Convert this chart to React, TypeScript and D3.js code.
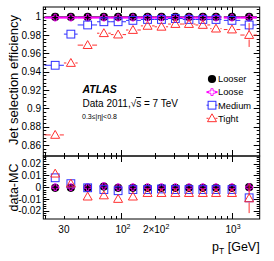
import React from "react";
import * as d3 from "d3";

// ---- data ----
const binLo = [20, 30, 40, 60, 80, 110, 150, 200, 265, 360, 470, 640, 850, 1200];
const binHi = [30, 40, 60, 80, 110, 150, 200, 265, 360, 470, 640, 810, 1200, 1700];
const ptCenter = [25, 34.7, 49.3, 69.2, 93.2, 127, 172.5, 230.7, 308.6, 410, 548, 722, 1008, 1443];

const effLooser = [0.9998, 0.9998, 0.9998, 0.9998, 0.9998, 0.9998, 0.9998, 0.9998, 0.9998, 0.9998, 0.9998, 0.9998, 0.9998, 0.9998];
const effLoose = [0.999, 0.999, 0.999, 0.999, 0.999, 0.999, 0.999, 0.999, 0.999, 0.999, 0.999, 0.999, 0.999, 0.999];
const effMedium = [0.947, 0.981, 0.991, 0.9945, 0.9945, 0.996, 0.997, 0.997, 0.998, 0.997, 0.997, 0.997, 0.996, 0.991];
const effTight = [0.871, 0.9495, 0.969, 0.982, 0.9805, 0.9855, 0.99, 0.989, 0.992, 0.992, 0.991, 0.987, 0.986, 0.98];
const errMedium = [0, 0, 0, 0, 0, 0, 0, 0, 0, 0, 0, 0, 0, 0.006];
const errTight = [0, 0, 0, 0, 0, 0, 0, 0, 0, 0, 0, 0, 0, 0.013];

const diffLooser = [-0.0005, -0.0005, -0.0005, 0.0005, -0.0005, -0.0005, -0.0005, -0.0005, -0.0005, -0.0005, -0.0005, -0.0005, -0.0005, 0];
const diffLoose = [0, 0, 0, 0.001, 0, 0, 0, 0, 0, 0, 0, 0, 0, 0];
const diffMedium = [0.008, 0.003, -0.0005, -0.002, -0.003, -0.002, -0.002, -0.0015, -0.002, -0.002, -0.002, -0.002, -0.002, -0.009];
const diffTight = [0.0115, 0.003, -0.008, -0.007, -0.01, -0.008, -0.005, -0.005, -0.005, -0.005, -0.005, -0.005, -0.005, -0.0095];
const diffErrMedium = [0, 0, 0, 0, 0, 0, 0, 0, 0, 0, 0, 0, 0, 0.004];
const diffErrTight = [0, 0, 0, 0, 0, 0, 0, 0, 0, 0, 0, 0, 0, 0.0125];

const topMajor = [0.86, 0.88, 0.9, 0.92, 0.94, 0.96, 0.98, 1];
const botMajor = [-0.02, -0.01, 0, 0.01, 0.02];
const xMajor = [100, 1000];
const xMinor = [20, 30, 40, 50, 60, 70, 80, 90, 200, 300, 400, 500, 600, 700, 800, 900];

const legendNames = ["Looser", "Loose", "Medium", "Tight"];

// ---- layout ----
const W = 274, H = 261;
const X0 = 43.3, X1 = 259.7;
const T0 = 7, T1 = 156, B0 = 156, B1 = 219;
const FONT = "Liberation Sans, Arial, sans-serif";
const COL = { looser: "#000000", loose: "#ff00ff", medium: "#2f2fff", tight: "#ff3030" };

const x = d3.scaleLog().domain([19.5, 1800]).range([X0, X1]);
const yTop = d3.scaleLinear().domain([0.848, 1.0106]).range([T1, T0]);
const yBot = d3.scaleLinear().domain([-0.027, 0.0265]).range([B1, B0]);

function Marker({ kind, cx, cy, color }: any) {
  if (kind === "circle") return <circle cx={cx} cy={cy} r={4.1} fill={color} />;
  if (kind === "square")
    return <rect x={cx - 3.9} y={cy - 3.9} width={7.8} height={7.8} fill="none" stroke={color} strokeWidth={1} />;
  if (kind === "triangle") {
    const s = 4.5;
    return (
      <path
        d={`M${cx},${cy - s} L${cx + s},${cy + s * 0.75} L${cx - s},${cy + s * 0.75} Z`}
        fill="none"
        stroke={color}
        strokeWidth={1}
      />
    );
  }
  // open cross
  const a = 3.4, b = 1.1;
  return (
    <path
      d={`M${cx - b},${cy - a} H${cx + b} V${cy - b} H${cx + a} V${cy + b} H${cx + b} V${cy + a} H${cx - b} V${cy + b} H${cx - a} V${cy - b} H${cx - b} Z`}
      fill="none"
      stroke={color}
      strokeWidth={0.9}
    />
  );
}

function Series({ vals, errs, y, kind, color, lw, gap }: any) {
  return (
    <g>
      {vals.map((v: number, i: number) => {
        const cx = x(ptCenter[i]);
        const cy = y(v);
        const xl = Math.max(X0, x(binLo[i]));
        const xr = Math.min(X1, x(binHi[i]));
        const e = errs ? errs[i] : 0;
        return (
          <g key={i}>
            {lw > 0 && (
              <>
                <line x1={xl} x2={cx - gap} y1={cy} y2={cy} stroke={color} strokeWidth={lw} />
                <line x1={cx + gap} x2={xr} y1={cy} y2={cy} stroke={color} strokeWidth={lw} />
              </>
            )}
            {e > 0 && (
              <>
                <line x1={cx} x2={cx} y1={y(v + e)} y2={cy - gap} stroke={color} strokeWidth={1} />
                <line x1={cx} x2={cx} y1={cy + gap} y2={y(v - e)} stroke={color} strokeWidth={1} />
              </>
            )}
            <Marker kind={kind} cx={cx} cy={cy} color={color} />
          </g>
        );
      })}
    </g>
  );
}

function YTicks({ scale, major, minorStep, y0, y1 }: any) {
  const [d0, d1] = scale.domain();
  const minors: number[] = [];
  const start = Math.ceil(d0 / minorStep - 1e-9);
  for (let k = start; k * minorStep <= d1 + 1e-12; k++) minors.push(k * minorStep);
  return (
    <g stroke="#000" strokeWidth={1}>
      {minors.map((v, i) => {
        const yy = Math.round(scale(v)) + 0.5;
        if (yy <= y0 + 0.6 || yy >= y1 - 0.6) return null;
        return (
          <g key={i}>
            <line x1={X0} x2={X0 + 3} y1={yy} y2={yy} />
            <line x1={X1} x2={X1 - 3} y1={yy} y2={yy} />
          </g>
        );
      })}
      {major.map((v: number, i: number) => {
        const yy = Math.round(scale(v)) + 0.5;
        return (
          <g key={"m" + i}>
            <line x1={X0} x2={X0 + 6} y1={yy} y2={yy} />
            <line x1={X1} x2={X1 - 6} y1={yy} y2={yy} />
          </g>
        );
      })}
    </g>
  );
}

function XTicks({ yTopEdge, yBotEdge }: any) {
  const all = [
    ...xMinor.map((v) => ({ v, len: 3 })),
    ...xMajor.map((v) => ({ v, len: 6 })),
  ];
  return (
    <g stroke="#000" strokeWidth={1}>
      {all.map((t, i) => {
        const xx = Math.round(x(t.v)) + 0.5;
        if (xx <= X0 + 1 || xx >= X1 - 1) return null;
        return (
          <g key={i}>
            <line x1={xx} x2={xx} y1={yBotEdge} y2={yBotEdge - t.len} />
            <line x1={xx} x2={xx} y1={yTopEdge} y2={yTopEdge + t.len} />
          </g>
        );
      })}
    </g>
  );
}

function fmtTop(v: number) {
  if (Math.abs(v - 1) < 1e-9) return "1";
  if (Math.abs(v - 0.9) < 1e-9) return "0.9";
  return v.toFixed(2);
}
function fmtBot(v: number) {
  if (Math.abs(v) < 1e-9) return "0";
  return v.toFixed(2);
}

export default function App() {
  return (
    <svg
      width={W}
      height={H}
      viewBox={`0 0 ${W} ${H}`}
      style={{ position: "absolute", left: 0, top: 0, background: "#fff" }}
      fontFamily={FONT}
    >
      <rect x={0} y={0} width={W} height={H} fill="#fff" />
      {/* top panel */}
      <YTicks scale={yTop} major={topMajor} minorStep={0.004} y0={T0} y1={T1} />
      <XTicks yTopEdge={T0} yBotEdge={T1} />
      {/* bottom panel */}
      <YTicks scale={yBot} major={botMajor} minorStep={0.002} y0={B0} y1={B1} />
      <XTicks yTopEdge={B0} yBotEdge={B1} />

      <g>
        <Series vals={effLooser} y={yTop} kind="circle" color={COL.looser} lw={1} gap={4} />
        <Series vals={effLoose} y={yTop} kind="cross" color={COL.loose} lw={2} gap={3.4} />
        <Series vals={effMedium} errs={errMedium} y={yTop} kind="square" color={COL.medium} lw={1} gap={3.9} />
        <Series vals={effTight} errs={errTight} y={yTop} kind="triangle" color={COL.tight} lw={1} gap={4.5} />
      </g>
      <g>
        <Series vals={diffLooser} y={yBot} kind="circle" color={COL.looser} lw={0} gap={4} />
        <Series vals={diffLoose} y={yBot} kind="cross" color={COL.loose} lw={0} gap={3.4} />
        <Series vals={diffMedium} errs={diffErrMedium} y={yBot} kind="square" color={COL.medium} lw={0} gap={3.9} />
        <Series vals={diffTight} errs={diffErrTight} y={yBot} kind="triangle" color={COL.tight} lw={0} gap={4.5} />
      </g>

      {/* frames */}
      <rect x={X0} y={T0} width={X1 - X0} height={T1 - T0} fill="none" stroke="#000" strokeWidth={1} />
      <rect x={X0} y={B0} width={X1 - X0} height={B1 - B0} fill="none" stroke="#000" strokeWidth={1} />

      {/* y tick labels */}
      <g fontSize={10} textAnchor="end" fill="#000">
        {topMajor.map((v, i) => (
          <text key={i} x={41} y={yTop(v) + 3.6}>
            {fmtTop(v)}
          </text>
        ))}
        {botMajor.map((v, i) => (
          <text key={"b" + i} x={41} y={yBot(v) + 3.6}>
            {fmtBot(v)}
          </text>
        ))}
      </g>

      {/* x tick labels */}
      <g fontSize={10} textAnchor="middle" fill="#000">
        <text x={x(30)} y={232.5}>30</text>
        <text x={x(100) + 1.5} y={232.5}>
          10<tspan fontSize={7} dy={-4}>2</tspan>
        </text>
        <text x={x(200) + 1.5} y={232.5}>
          2×10<tspan fontSize={7} dy={-4}>2</tspan>
        </text>
        <text x={x(1000) + 1.5} y={232.5}>
          10<tspan fontSize={7} dy={-4}>3</tspan>
        </text>
      </g>

      {/* axis titles */}
      <text
        transform={`translate(17.5, 80) rotate(-90)`}
        textAnchor="middle"
        fontSize={13}
        fill="#000"
      >
        Jet selection efficiency
      </text>
      <text
        transform={`translate(17.5, 187.5) rotate(-90)`}
        textAnchor="middle"
        fontSize={12.5}
        fill="#000"
      >
        data-MC
      </text>
      <text x={X1} y={250.5} textAnchor="end" fontSize={12.5} fill="#000">
        p<tspan fontSize={8.5} dy={3}>T</tspan>
        <tspan dy={-3}> [GeV]</tspan>
      </text>

      {/* ATLAS labels */}
      <text x={82.5} y={93} fontSize={10.5} fontWeight="bold" fontStyle="italic" fill="#000">
        ATLAS
      </text>
      <text x={82.5} y={107} fontSize={10} fill="#000">
        Data 2011,√<tspan textDecoration="overline">s</tspan> = 7 TeV
      </text>
      <text x={82} y={118.5} fontSize={7} fill="#000">
        0.3≤|η|&lt;0.8
      </text>

      {/* legend */}
      <g fontSize={9.3} fill="#000">
        {legendNames.map((name, i) => {
          const ly = 79 + i * 13.1;
          const lx = 212;
          const kinds = ["circle", "cross", "square", "triangle"];
          const cols = [COL.looser, COL.loose, COL.medium, COL.tight];
          const lws = [0, 2, 1, 1];
          return (
            <g key={name}>
              {lws[i] > 0 && (
                <>
                  <line x1={lx - 5.5} x2={lx - 3.4} y1={ly} y2={ly} stroke={cols[i]} strokeWidth={lws[i]} />
                  <line x1={lx + 3.4} x2={lx + 5.5} y1={ly} y2={ly} stroke={cols[i]} strokeWidth={lws[i]} />
                </>
              )}
              <Marker kind={kinds[i]} cx={lx} cy={ly} color={cols[i]} />
              <text x={218} y={ly + 3.3}>{name}</text>
            </g>
          );
        })}
      </g>
    </svg>
  );
}
